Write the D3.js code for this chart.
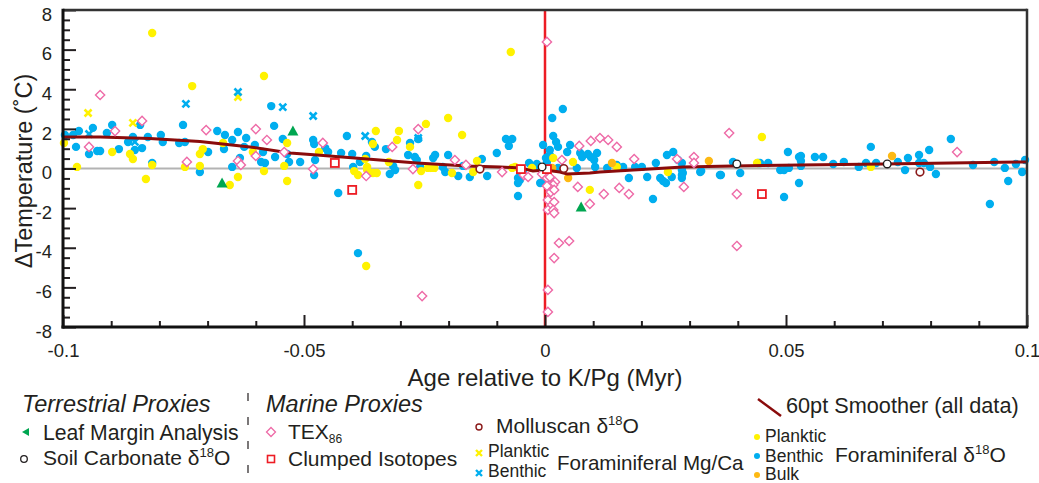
<!DOCTYPE html>
<html><head><meta charset="utf-8">
<script src="https://cdn.jsdelivr.net/npm/d3@7"></script>
<style>
html,body{margin:0;padding:0;background:#fff;}
svg{display:block;font-family:"Liberation Sans",Arial,Helvetica,sans-serif;}
</style></head>
<body><svg id="chart" width="1039" height="483"></svg>
<script>
// ---------- DATA (x = age relative to K/Pg in Myr, y = ΔTemperature °C) ----------
const xMajorTicks = [-0.1, -0.05, 0, 0.05, 0.1];
const xTickLabels = ["-0.1", "-0.05", "0", "0.05", "0.1"];
const yMajorTicks = [-8, -6, -4, -2, 0, 2, 4, 6, 8];
const yTickLabels = ["-8", "-6", "-4", "-2", "0", "2", "4", "6", "8"];

const benthicD18O = [
 [-0.0996,1.69],[-0.0979,1.69],[-0.0967,1.89],[-0.0973,1.09],[-0.0938,2.05],[-0.0946,0.73],[-0.0929,0.88],[-0.0923,0.88],
 [-0.0898,2.20],[-0.0909,1.79],[-0.0884,0.98],[-0.0865,1.34],[-0.0855,1.59],[-0.0851,0.93],[-0.0836,1.03],[-0.0840,2.20],
 [-0.0824,1.59],[-0.0815,0.28],[-0.0797,1.69],[-0.0793,1.34],[-0.0759,1.29],[-0.0751,2.20],[-0.0747,1.34],[-0.0699,0.83],
 [-0.0716,-0.18],[-0.0680,1.89],[-0.0664,1.69],[-0.0666,0.98],[-0.0649,1.44],[-0.0649,0.08],[-0.0637,1.84],[-0.0633,0.53],
 [-0.0620,1.54],[-0.0624,1.09],[-0.0568,3.15],[-0.0562,2.15],[-0.0560,0.58],[-0.0589,0.33],[-0.0581,0.28],[-0.0585,0.83],
 [-0.0544,1.49],[-0.0531,0.33],[-0.0508,0.33],[-0.0602,1.19],[-0.0535,0.73],
 [-0.0481,1.44],[-0.0479,1.24],[-0.0477,0.43],[-0.0479,-0.33],[-0.0456,1.03],[-0.0450,0.83],[-0.0423,0.78],[-0.0411,1.64],
 [-0.0400,0.73],[-0.0398,0.08],[-0.0384,0.33],[-0.0371,0.63],[-0.0359,1.34],[-0.0353,1.09],[-0.0330,0.98],[-0.0315,0.13],
 [-0.0311,-0.08],[-0.0322,-0.28],[-0.0284,0.68],[-0.0280,1.29],[-0.0270,0.58],[-0.0266,0.43],[-0.0263,1.49],[-0.0259,0.08],
 [-0.0232,0.53],[-0.0228,0.68],[-0.0212,0.08],[-0.0207,-0.18],[-0.0201,0.68],[-0.0180,-0.38],[-0.0170,0.13],[-0.0156,-0.43],
 [-0.0131,0.48],[-0.0120,-0.38],[-0.0100,0.78],[-0.0081,1.49],[-0.0068,1.49],[-0.0075,1.14],[-0.0056,-0.48],[-0.0033,0.28],
 [-0.0019,0.13],[-0.0004,1.19],[0.0004,0.33],[-0.0429,-1.24],[-0.0056,-1.39],[-0.0052,-0.58],[-0.0056,-0.73],[-0.0388,-4.27],
 [0.0002,0.53],[0.0006,0.58],[-0.0017,0.23],[-0.0046,-0.18],
 [0.0037,3.00],[0.0015,2.55],[0.0017,1.64],[0.0023,1.34],[0.0027,1.09],[0.0052,1.19],[0.0046,0.83],[0.0010,0.93],[0.0010,0.68],
 [0.0073,0.78],[0.0077,0.58],[0.0089,0.73],[0.0095,0.58],[0.0102,0.43],[0.0108,0.78],[0.0104,0.08],[0.0066,0.03],[0.0129,0.03],
 [0.0149,0.18],[0.0162,0.08],[0.0187,0.08],[0.0201,0.08],[0.0230,0.28],[0.0253,0.68],[0.0266,0.83],[0.0263,-0.43],[0.0276,0.43],
 [0.0284,0.28],[0.0284,0.03],[0.0286,-0.23],[0.0322,-0.18],[0.0363,-0.33],[0.0390,0.33],[0.0405,-0.23],[0.0442,0.28],[0.0463,0.28],
 [0.0488,-0.08],[0.0504,0.83],[0.0527,0.58],
 [0.0174,-0.48],[0.0212,-0.43],[0.0239,-0.48],[0.0245,-0.63],[0.0251,-0.73],[0.0284,-0.08],[0.0284,-0.33],[0.0284,-0.48],
 [0.0324,-0.13],[0.0365,-0.33],[0.0496,-0.08],[0.0224,-1.54],[0.0496,-1.44],[0.0027,0.03],[-0.0004,-0.68],[-0.0010,-0.73],[0.0010,-0.48],
 [0.0446,0.28],[0.0506,0.03],[0.0531,0.63],[0.0531,0.38],[0.0531,0.13],[0.0560,0.58],[0.0577,0.58],[0.0598,0.23],[0.0620,0.33],
 [0.0651,0.08],[0.0666,0.28],[0.0676,1.09],[0.0687,0.28],[0.0732,0.33],[0.0747,-0.08],[0.0753,0.53],[0.0776,0.68],[0.0776,0.28],
 [0.0786,0.28],[0.0797,0.93],[0.0799,0.08],[0.0811,-0.28],[0.0842,1.49],[0.0888,0.18],[0.0932,0.33],[0.0954,0.03],[0.0977,0.23],
 [0.0990,-0.18],[0.0996,0.43],[0.0527,-0.73],[0.0923,-1.79],[0.0961,-0.63]
];
const planktonicD18O = [
 [-0.0998,1.29],[-0.0971,0.08],[-0.0898,0.83],[-0.0861,0.73],[-0.0855,0.48],[-0.0815,6.84],[-0.0815,0.18],[-0.0732,4.16],
 [-0.0747,0.08],[-0.0716,0.73],[-0.0710,0.98],[-0.0716,0.13],[-0.0668,1.29],[-0.0637,-0.43],[-0.0606,0.83],[-0.0583,4.67],
 [-0.0583,-0.13],[-0.0541,0.13],[-0.0535,1.29],[-0.0828,-0.53],[-0.0654,-0.83],[-0.0535,-0.63],
 [-0.0469,0.83],[-0.0373,0.48],[-0.0369,0.08],[-0.0369,-0.08],[-0.0351,1.89],[-0.0357,1.24],[-0.0396,-0.13],[-0.0388,-0.33],
 [-0.0357,-0.23],[-0.0349,-0.23],[-0.0307,1.44],[-0.0303,1.89],[-0.0324,0.33],[-0.0280,1.09],[-0.0247,2.25],[-0.0257,-0.13],
 [-0.0243,0.03],[-0.0234,0.03],[-0.0230,0.03],[-0.0201,2.55],[-0.0193,-0.23],[-0.0172,1.69],[-0.0149,-0.18],[-0.0141,0.38],
 [-0.0071,5.88],[-0.0068,0.03],[-0.0062,0.08],[-0.0027,0.03],[-0.0263,-0.83],[-0.0371,-4.92],
 [0.0017,0.53],[0.0058,0.33],[0.0093,-1.08],[0.0149,0.08],[0.0255,-0.18],[0.0450,1.59],[0.0440,0.28],[0.0676,0.08]
];
const bulkD18O = [[0.0139,0.28],[0.0340,0.38],[0.0048,-0.48],[0.0720,0.63],[0.0015,0.03]];
const planktonicMgCa = [[-0.0948,2.80],[-0.0855,2.30],[-0.0637,3.61],[-0.0232,0.03]];
const benthicMgCa = [[-0.0946,1.74],[-0.0851,1.34],[-0.0745,3.26],[-0.0637,3.86],[-0.0544,3.10],[-0.0481,2.65],[-0.0373,1.64],[-0.0263,1.54]];
const tex86 = [
 [-0.0923,3.71],[-0.0946,1.09],[-0.0892,1.89],[-0.0836,2.40],[-0.0743,0.33],[-0.0703,1.94],[-0.0637,0.38],[-0.0631,0.18],
 [-0.0600,1.99],[-0.0577,1.44],[-0.0600,0.63],[-0.0541,0.83],[-0.0461,1.29],[-0.0481,-0.03],[-0.0371,-0.38],[-0.0317,1.09],
 [-0.0263,1.99],[-0.0274,-0.03],[-0.0187,0.43],[-0.0164,0.18],[-0.0089,-0.18],[-0.0044,-0.33],[-0.0035,-0.43],[-0.0006,-0.28],
 [0.0004,6.39],[-0.0255,-6.44],
 [0.0004,-0.48],[0.0010,-0.43],[0.0021,-0.68],[0.0017,-0.83],[0.0010,-0.98],[0.0004,-0.88],[0.0012,-1.19],[0.0019,-1.08],
 [0.0006,-1.59],[0.0019,-1.69],[0.0006,-2.09],[0.0017,-2.09],[0.0019,-2.25],[0.0029,-3.76],[0.0050,-3.66],[0.0019,-4.52],
 [0.0006,-6.13],[0.0006,-7.24],
 [0.0068,-0.93],[0.0093,-1.79],[0.0122,-1.29],[0.0154,-0.98],[0.0174,-1.29],[0.0288,-0.93],[0.0398,-1.29],[0.0398,-3.91],
 [0.0071,1.14],[0.0095,1.39],[0.0114,1.54],[0.0131,1.44],[0.0149,1.09],[0.0185,0.48],[0.0035,0.43],[0.0274,0.48],
 [0.0309,0.58],[0.0309,0.28],[0.0382,1.79],[0.0855,0.83]
];
const clumpedIsotopes = [[-0.0436,0.28],[-0.0400,-1.08],[-0.0050,-0.03],[0.0004,-0.03],[0.0450,-1.29]];
const leafMargin = [[-0.0523,1.89],[-0.0670,-0.73],[0.0075,-1.94]];
const soilCarbonate = [[0.0398,0.23],[0.0710,0.23],[-0.0006,0.08]];
const molluscan = [[-0.0135,-0.03],[0.0039,0.0],[0.0778,-0.18]];
const smootherX = [-0.1,-0.0923,-0.082,-0.0716,-0.0612,-0.0529,-0.0473,-0.0369,-0.0266,-0.0162,-0.0093,-0.0052,-0.0025,0,0.0031,0.0046,0.0093,0.0114,0.0218,0.0286,0.039,0.0529,0.0701,0.0996,0.1];
const smootherY = [1.59,1.59,1.51,1.36,1.09,0.78,0.68,0.48,0.28,0.13,0.08,0.03,-0.13,-0.08,-0.18,-0.28,-0.23,-0.18,-0.03,0.08,0.13,0.18,0.23,0.33,0.33];

// ---------- COLOURS ----------
const C = {
  blue:"#00aeef", yellow:"#fff200", orange:"#fdb913", pink:"#ee6aa7", red:"#ed1c24",
  green:"#00a651", dark:"#231f20", mollusc:"#8b1a1a", smooth:"#8a0b0b", grey:"#b3b3b3"
};

const svg = d3.select("#chart");
const x = d3.scaleLinear().domain([-0.1,0.1]).range([63,1027]);
const y = d3.scaleLinear().domain([-8,8]).range([327,10]);

// zero line
svg.append("line").attr("x1",x(-0.1)).attr("x2",x(0.1)).attr("y1",y(0)).attr("y2",y(0))
  .attr("stroke",C.grey).attr("stroke-width",2);

// K/Pg line
svg.append("line").attr("x1",x(0)).attr("x2",x(0)).attr("y1",y(8)).attr("y2",y(-8))
  .attr("stroke",C.red).attr("stroke-width",2.5);

const g = svg.append("g");
function dots(data, color, r){
  g.selectAll(null).data(data).enter().append("circle")
    .attr("cx",d=>x(d[0])).attr("cy",d=>y(d[1])).attr("r",r).attr("fill",color);
}
dots(benthicD18O, C.blue, 4.2);
dots(planktonicD18O, C.yellow, 4.2);
dots(bulkD18O, C.orange, 4.2);

function crosses(data,color){
  g.selectAll(null).data(data).enter().append("path")
    .attr("transform",d=>`translate(${x(d[0])},${y(d[1])})`)
    .attr("d","M-3.5,-3.5L3.5,3.5M-3.5,3.5L3.5,-3.5")
    .attr("stroke",color).attr("stroke-width",2.6).attr("fill","none");
}
crosses(planktonicMgCa, C.yellow);
crosses(benthicMgCa, C.blue);

// smoother
const line = d3.line().x(d=>x(d[0])).y(d=>y(d[1]));
svg.append("path").datum(smootherX.map((v,i)=>[v,smootherY[i]]))
  .attr("d",line).attr("fill","none").attr("stroke",C.smooth).attr("stroke-width",3);

const g2 = svg.append("g");
g2.selectAll(null).data(tex86).enter().append("path")
  .attr("transform",d=>`translate(${x(d[0])},${y(d[1])})`)
  .attr("d","M0,-4.6L4.6,0L0,4.6L-4.6,0Z")
  .attr("fill","#fff").attr("stroke",C.pink).attr("stroke-width",1.4);
g2.selectAll(null).data(clumpedIsotopes).enter().append("rect")
  .attr("x",d=>x(d[0])-4).attr("y",d=>y(d[1])-4).attr("width",8).attr("height",8)
  .attr("fill","#fff").attr("stroke",C.red).attr("stroke-width",1.8);
g2.selectAll(null).data(leafMargin).enter().append("path")
  .attr("transform",d=>`translate(${x(d[0])},${y(d[1])})`)
  .attr("d","M0,-5.5L5.5,4.5L-5.5,4.5Z").attr("fill",C.green);
g2.selectAll(null).data(soilCarbonate).enter().append("circle")
  .attr("cx",d=>x(d[0])).attr("cy",d=>y(d[1])).attr("r",3.8)
  .attr("fill","#fff").attr("stroke",C.dark).attr("stroke-width",1.4);
g2.selectAll(null).data(molluscan).enter().append("circle")
  .attr("cx",d=>x(d[0])).attr("cy",d=>y(d[1])).attr("r",3.8)
  .attr("fill","#fff").attr("stroke",C.mollusc).attr("stroke-width",1.6);

// ---------- AXES ----------
const xMinor = d3.range(-0.1,0.1001,0.01).filter(v=>!xMajorTicks.some(m=>Math.abs(m-v)<1e-9));
const yMinor = d3.range(-8,8.01,0.5).filter(v=>!yMajorTicks.some(m=>Math.abs(m-v)<1e-9));

const axX = svg.append("g").attr("transform",`translate(0,${y(-8)})`)
  .call(d3.axisBottom(x).tickValues(xMajorTicks).tickSize(-12).tickPadding(17)
    .tickFormat((d,i)=>xTickLabels[i]));
svg.append("g").attr("transform",`translate(0,${y(-8)})`)
  .call(d3.axisBottom(x).tickValues(xMinor).tickSize(-6).tickFormat(""));
const axY = svg.append("g").attr("transform",`translate(${x(-0.1)},0)`)
  .call(d3.axisLeft(y).tickValues(yMajorTicks).tickSize(-13).tickPadding(24)
    .tickFormat((d,i)=>yTickLabels[i]));
svg.append("g").attr("transform",`translate(${x(-0.1)},0)`)
  .call(d3.axisLeft(y).tickValues(yMinor).tickSize(-7).tickFormat(""));
svg.selectAll(".domain").remove();
svg.selectAll(".tick line").attr("stroke",C.dark).attr("stroke-width",2);
svg.selectAll(".tick text").attr("fill",C.dark).style("font-size","18.5px")
  .style("font-family","'Liberation Sans',Arial,sans-serif");
axY.selectAll(".tick text").attr("dy","0.55em").attr("x",-11);

// frame
svg.append("line").attr("x1",x(-0.1)).attr("x2",x(0.1)).attr("y1",y(8)).attr("y2",y(8)).attr("stroke","#333").attr("stroke-width",2.5);
svg.append("line").attr("x1",x(0.1)).attr("x2",x(0.1)).attr("y1",y(8)-1.2).attr("y2",y(-8)).attr("stroke","#333").attr("stroke-width",2.5);
svg.append("line").attr("x1",x(-0.1)-1.5).attr("x2",x(0.1)+1.2).attr("y1",y(-8)).attr("y2",y(-8)).attr("stroke","#111").attr("stroke-width",3);
svg.append("line").attr("x1",x(-0.1)).attr("x2",x(-0.1)).attr("y1",y(8)-1.2).attr("y2",y(-8)+1.5).attr("stroke","#111").attr("stroke-width",3);

// axis titles
svg.append("text").attr("x",545).attr("y",386).attr("text-anchor","middle")
  .attr("fill",C.dark).style("font-size","24px").text("Age relative to K/Pg (Myr)");
svg.append("text").attr("transform","translate(32,171) rotate(-90)").attr("text-anchor","middle")
  .attr("fill",C.dark).style("font-size","23.5px").text("\u0394Temperature (\u02DAC)");

// ---------- LEGEND ----------
const L = svg.append("g").attr("fill",C.dark);
function txt(xx,yy,s,size,italic){
  return L.append("text").attr("x",xx).attr("y",yy).style("font-size",size+"px")
    .style("font-style",italic?"italic":"normal").text(s);
}
function d18(xx,yy,pre,size){
  const t = L.append("text").attr("x",xx).attr("y",yy).style("font-size",size+"px");
  t.append("tspan").text(pre+"\u03B4");
  t.append("tspan").attr("dy",-8).style("font-size","13px").text("18");
  t.append("tspan").attr("dy",8).text("O");
  return t;
}
txt(22,412,"Terrestrial Proxies",23.5,true);
L.append("path").attr("d","M22,432L29,428L29,436Z").attr("fill",C.green);
txt(43,440,"Leaf Margin Analysis",21.2);
L.append("circle").attr("cx",24).attr("cy",459).attr("r",3.3).attr("fill","#fff").attr("stroke",C.dark).attr("stroke-width",1.3);
d18(43,465,"Soil Carbonate ",21);

svg.append("line").attr("x1",248).attr("x2",248).attr("y1",393).attr("y2",479)
  .attr("stroke",C.dark).attr("stroke-width",1.2).attr("stroke-dasharray","8,16");

txt(266,412,"Marine Proxies",23.5,true);
L.append("path").attr("d","M271,427.5L275.5,432L271,436.5L266.5,432Z").attr("fill","#fff").attr("stroke",C.pink).attr("stroke-width",1.3);
const tex = txt(288,439,"TEX",21);
tex.append("tspan").attr("dy",4).style("font-size","12px").text("86");
L.append("rect").attr("x",267.5).attr("y",455.5).attr("width",7).attr("height",7).attr("fill","#fff").attr("stroke",C.red).attr("stroke-width",1.6);
txt(288,466,"Clumped Isotopes",21);

L.append("circle").attr("cx",479).attr("cy",427).attr("r",3).attr("fill","#fff").attr("stroke",C.mollusc).attr("stroke-width",1.4);
d18(496,433,"Molluscan ",21);
L.append("path").attr("d","M476,450L482,456M476,456L482,450").attr("stroke",C.yellow).attr("stroke-width",2.4);
txt(488,457,"Planktic",17.5);
L.append("path").attr("d","M476,470L482,476M476,476L482,470").attr("stroke",C.blue).attr("stroke-width",2.4);
txt(488,477,"Benthic",17.5);
txt(557,470,"Foraminiferal Mg/Ca",20.6);

L.append("line").attr("x1",758).attr("y1",399).attr("x2",781).attr("y2",416).attr("stroke",C.smooth).attr("stroke-width",2.5);
txt(786,413,"60pt Smoother (all data)",21.7);
L.append("circle").attr("cx",757).attr("cy",437).attr("r",3).attr("fill",C.yellow);
txt(765,442,"Planktic",17.5);
L.append("circle").attr("cx",757).attr("cy",456).attr("r",3).attr("fill",C.blue);
txt(765,462,"Benthic",17.5);
L.append("circle").attr("cx",757).attr("cy",475).attr("r",3).attr("fill",C.orange);
txt(765,480,"Bulk",17.5);
d18(835,462,"Foraminiferal ",21);
</script></body></html>
